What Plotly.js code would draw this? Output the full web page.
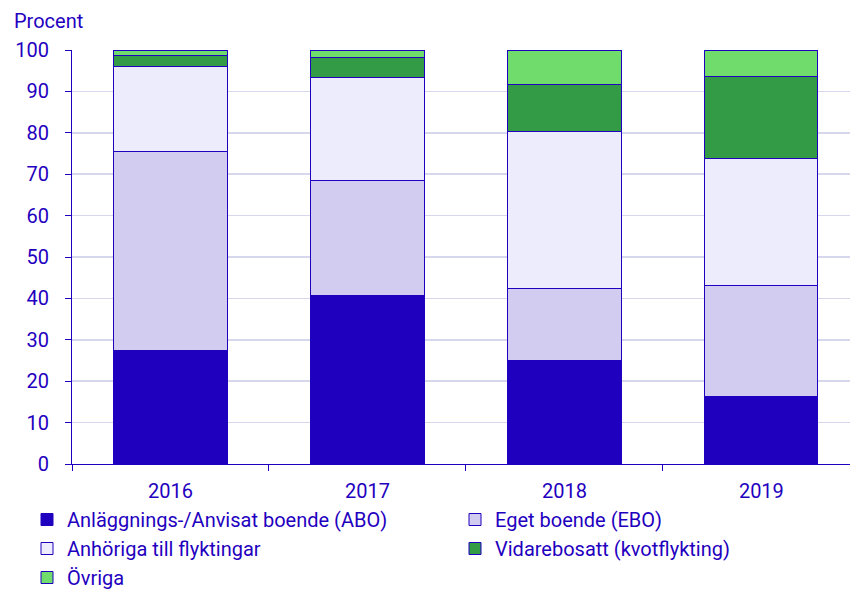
<!DOCTYPE html>
<html>
<head>
<meta charset="utf-8">
<script src="https://cdn.plot.ly/plotly-3.0.1.min.js"></script>
<style>html,body{margin:0;padding:0;background:#fff;}#chart{width:850px;height:592px;}</style>
</head>
<body>
<div id="chart"></div>
<script>
const years = ["2016", "2017", "2018", "2019"];
const seriesNames = ["Anläggnings-/Anvisat boende (ABO)", "Eget boende (EBO)", "Anhöriga till flyktingar", "Vidarebosatt (kvotflykting)", "Övriga"];
const abo = [27.5, 40.8, 24.9, 16.4];
const ebo = [47.9, 27.6, 17.4, 26.8];
const anhoriga = [20.5, 24.9, 38.1, 30.7];
const vidarebosatt = [2.7, 5.0, 11.3, 19.6];
const ovriga = [1.4, 1.7, 8.3, 6.5];
const colors = ["#1f00bf", "#d1ccf0", "#ececfd", "#339a46", "#6fdc6c"];
const yTicks = [0, 10, 20, 30, 40, 50, 60, 70, 80, 90, 100];

const blue = "#1f00bf";
const values = [abo, ebo, anhoriga, vidarebosatt, ovriga];
const legendOf = ["legend", "legend2", "legend", "legend2", "legend"];
const traces = values.map((v, i) => ({
  type: "bar",
  name: seriesNames[i],
  x: years,
  y: v,
  legend: legendOf[i],
  marker: {color: colors[i], line: {color: blue, width: 1}},
  hoverinfo: "x+y+name"
}));

const legendBase = {
  orientation: "v", xref: "container", yref: "container",
  xanchor: "left", yanchor: "top", y: 1 - 500/592,
  traceorder: "normal", itemwidth: 30,
  font: {size: 20, color: blue}, bgcolor: "rgba(0,0,0,0)",
  borderwidth: 0, tracegroupgap: 0
};

const layout = {
  width: 850, height: 592,
  margin: {l: 72, r: 0, t: 50, b: 128, autoexpand: false},
  paper_bgcolor: "#fff", plot_bgcolor: "#fff",
  font: {family: "Roboto, sans-serif", size: 20, color: blue},
  barmode: "stack",
  bargap: 0.425,
  showlegend: true,
  legend: Object.assign({}, legendBase, {x: 27/850}),
  legend2: Object.assign({}, legendBase, {x: 455/850}),
  xaxis: {
    type: "category", range: [-0.5, 3.45],
    showline: true, linecolor: blue, linewidth: 1,
    ticks: "outside", tickson: "boundaries", ticklen: 6, tickcolor: blue,
    ticklabelstandoff: 9,
    showgrid: false, zeroline: false, fixedrange: true,
    tickfont: {size: 20, color: blue}
  },
  yaxis: {
    range: [0, 100], tickvals: yTicks, ticktext: yTicks.map(String),
    showline: true, linecolor: blue, linewidth: 1,
    ticks: "outside", ticklen: 6, tickcolor: blue,
    ticklabelstandoff: 12,
    showgrid: true, gridcolor: "#d6d6ec", gridwidth: 1.5,
    zeroline: false, fixedrange: true,
    tickfont: {size: 20, color: blue}
  },
  annotations: [{
    text: "Procent", xref: "paper", yref: "paper",
    x: -60/778, xanchor: "left", y: 1 + 29/414, yanchor: "middle",
    showarrow: false, font: {size: 20, color: blue}
  }]
};

Plotly.newPlot("chart", traces, layout, {displayModeBar: false, staticPlot: true});
</script>
</body>
</html>
